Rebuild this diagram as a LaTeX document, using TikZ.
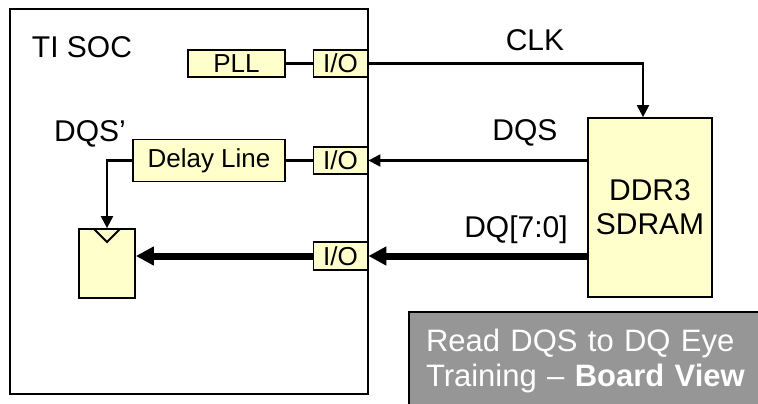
\documentclass[tikz,border=0pt]{standalone}
\usepackage{fontspec}
\setmainfont{Liberation Sans}
\usetikzlibrary{arrows.meta}
\definecolor{boxyellow}{HTML}{FFFFCC}
\definecolor{notegray}{HTML}{969696}
\tikzset{
  blk/.style={draw, fill=boxyellow, line width=1.8pt, inner sep=0pt, font=\fontsize{26}{30}\selectfont},
  lbl/.style={font=\fontsize{30}{34}\selectfont},
  wire/.style={line width=2.2pt},
  sig/.style={wire, -{Triangle[length=12pt,width=12pt]}},
  bus/.style={line width=7pt, -{Triangle[length=18pt,width=18pt]}}
}
\begin{document}
\begin{tikzpicture}[x=1pt,y=-1pt]
			\useasboundingbox (0,0) rectangle (758,404);
			% SOC outline
			\draw[line width=2.2pt] (10,9) rectangle (368,394);
			\node[lbl] (soc) at (82,47) {TI SOC};
			\node[blk, minimum width=97pt, minimum height=27pt] (pll) at (236.5,63.5) {PLL};
			\node[blk, minimum width=54pt, minimum height=27pt] (io1) at (340.5,63.5) {I/O};
			\node[blk, minimum width=152pt, minimum height=42pt] (dly) at (209,160.5) {Delay Line};
			\node[blk, minimum width=54pt, minimum height=27pt] (io2) at (340.5,160.5) {I/O};
			\node[blk, minimum width=54pt, minimum height=28pt] (io3) at (340.5,256) {I/O};
			\node[blk, minimum width=56pt, minimum height=69pt] (ff) at (107,263.5) {};
			\draw[line width=1.8pt] (94,229) -- (107,242) -- (120,229);
			\node[lbl] (dqsp) at (90,134) {DQS’};
			% memory
			\node[blk, lbl, minimum width=124pt, minimum height=179pt, align=center] (ddr) at (650,207.5) {DDR3\\SDRAM};
			\node[lbl] (clk) at (535,40) {CLK};
			\node[lbl] (dqs) at (525,133) {DQS};
			\node[lbl] (dq) at (516,230) {DQ[7:0]};
			% signals
			\draw[wire] (pll) -- (io1);
			\draw[sig] (io1.east) -| (ddr.north -| 643,0);
			\draw[sig] (ddr.west |- io2.east) -- (io2.east);
			\draw[wire] (io2) -- (dly);
			\draw[sig] (dly.west) -| (ff.north);
			\draw[bus] (ddr.west |- io3.east) -- (io3.east);
			\draw[bus] (io3.west) -- (ff.east |- io3.west);
			% caption box
			\node[draw, line width=2pt, fill=notegray, text=white, anchor=north west, minimum width=360pt, minimum height=97pt, inner xsep=17pt, text width=330pt, align=left, font=\fontsize{31}{35}\selectfont] (note) at (408,311) {Read DQS to DQ Eye\\Training – \textbf{Board View}};
\end{tikzpicture}
\end{document}
